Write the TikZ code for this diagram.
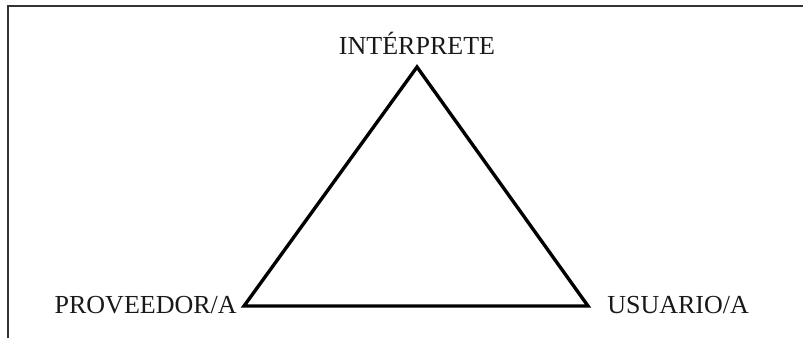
\documentclass[tikz,border=0pt]{standalone}
\usepackage{fontspec}
\setmainfont{Liberation Serif}
\usepackage{xcolor}
\usepackage{tikz}
\usetikzlibrary{positioning}

\begin{document}
\begin{tikzpicture}[
    lbl/.style={font=\fontsize{18.5}{22}\selectfont,inner sep=0pt,text=black!90},
    tri/.style={draw=black,line width=2.4pt,line join=miter},
    frm/.style={draw=black!80,line width=1.5pt}
  ]
    \useasboundingbox (0,0) rectangle (20.075,8.45);

    % Frame
    \draw[frm] (0.2,0) -- (0.2,8.3) -- (20.075,8.3);

    % Vertices
    \coordinate (int)  at (10.425,6.775);
    \coordinate (prov) at (6.1,0.8);
    \coordinate (usu)  at (14.7,0.8);

    \draw[tri] (int) -- (prov) -- (usu) -- cycle;

    % Labels
    \node[lbl,anchor=base] (lint) at ([yshift=0.325cm]int) {INTÉRPRETE};
    \node[lbl,anchor=base east] (lprov) at ([xshift=-0.175cm,yshift=-0.175cm]prov) {PROVEEDOR/A};
    \node[lbl,anchor=base west] (lusu) at ([xshift=0.475cm,yshift=-0.175cm]usu) {USUARIO/A};

  \end{tikzpicture}
\end{document}
